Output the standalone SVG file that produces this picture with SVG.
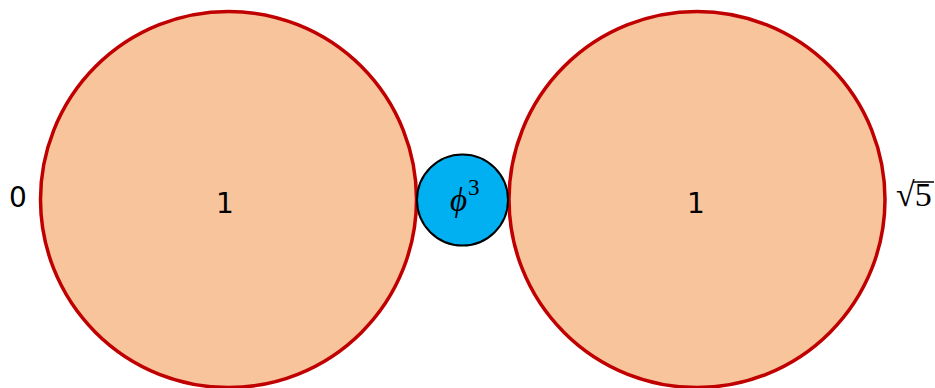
<svg xmlns="http://www.w3.org/2000/svg" width="935" height="388" viewBox="0 0 935 388">
<style>
.big{fill:#F8C49B;stroke:#C00000;stroke-width:3.5}
.small{fill:#00B0F0;stroke:#000;stroke-width:2}
.lab{font-family:"DejaVu Sans","Liberation Sans",sans-serif;font-size:28px;fill:#000}
.math{font-family:"Liberation Serif","DejaVu Serif",serif;fill:#000}
</style>
<rect width="935" height="388" fill="#fff"/>
<g id="circle-left">
<circle class="big" cx="228.5" cy="199.5" r="188"/>
<text class="lab" x="225" y="213" text-anchor="middle">1</text>
</g>
<g id="circle-right">
<circle class="big" cx="697" cy="199.5" r="188"/>
<text class="lab" x="696" y="213" text-anchor="middle">1</text>
</g>
<g id="circle-phi">
<circle class="small" cx="462.5" cy="200" r="45.5"/>
<text class="math" x="450" y="211" font-size="33" font-style="italic">ϕ<tspan font-style="normal" font-size="23" dy="-16" dx="1">3</tspan></text>
</g>
<g id="label-zero">
<text class="lab" x="18" y="207" text-anchor="middle">0</text>
</g>
<g id="label-sqrt5">
<text class="math" x="896" y="206" font-size="34">√5</text>
<line x1="913" y1="182" x2="934" y2="182" stroke="#000" stroke-width="1.5"/>
</g>
</svg>
